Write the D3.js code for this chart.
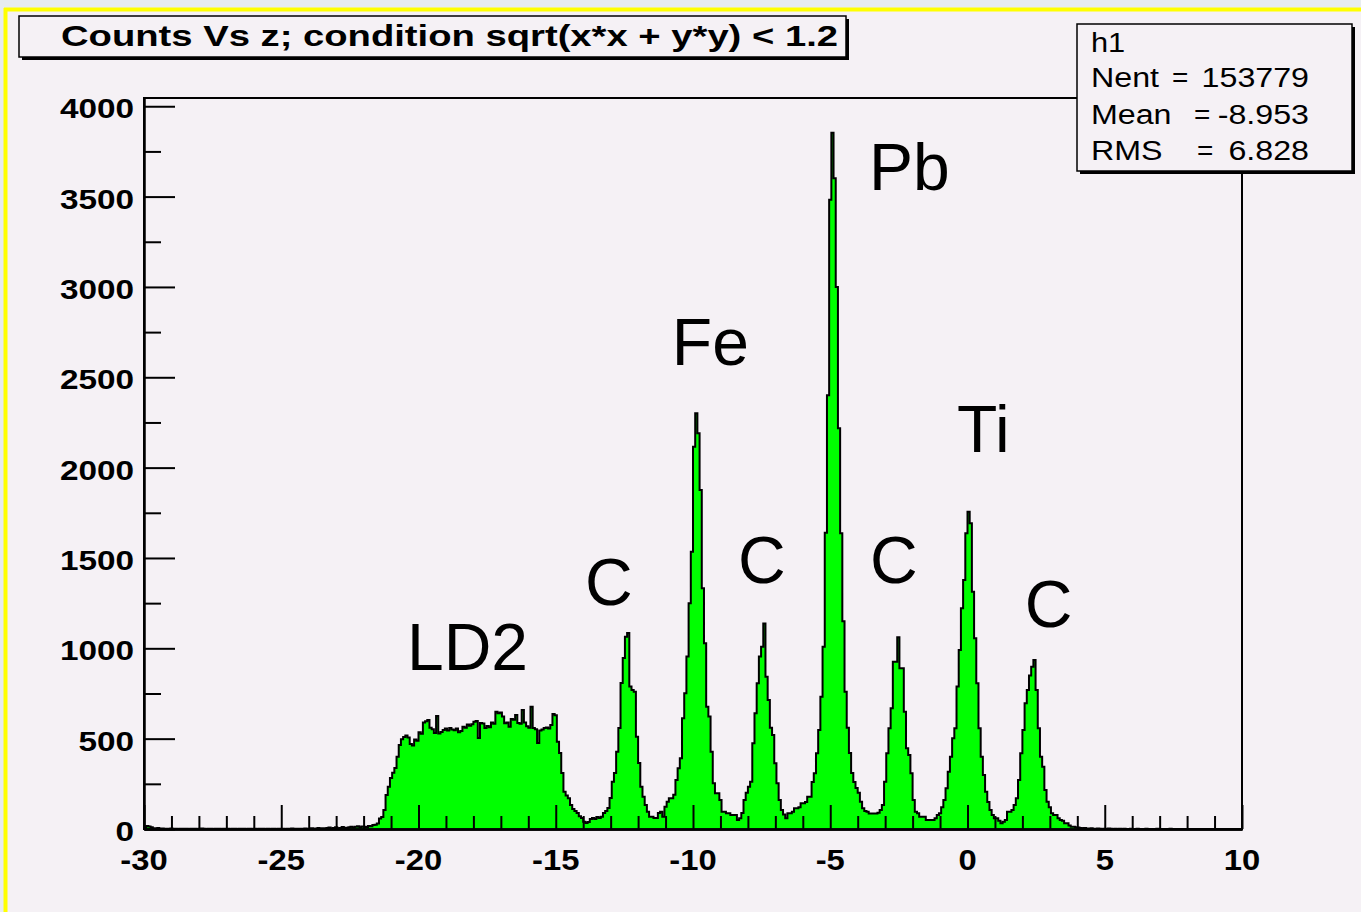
<!DOCTYPE html>
<html>
<head>
<meta charset="utf-8">
<script src="https://cdn.jsdelivr.net/npm/d3@7/dist/d3.min.js"></script>
<style>
  html, body { margin: 0; padding: 0; background: #e7ecf0; }
  svg { display: block; }
</style>
</head>
<body>
<svg id="canvas" width="1361" height="912"></svg>
<script>
// ---- histogram h1: counts vs z, 500 bins from -30 to 10 ----
const zLow = -30, zHigh = 10, nBins = 500;

// bin contents, split by region along z
const countsTailLeft = [
  8,17,14,9,4,3,5,2,3,1,
  2,1,3,1,2,0,1,2,1,1,
  0,2,1,1,0,1,3,1,0,1,
  1,0,2,1,1,0,1,1,2,0,
  1,1,0,1,2,1,0,1,1,0,
  1,0,1,2,1,0,1,0,1,1,
  0,1,1,2,0,1,1,3,1,2,
  1,2,1,3,2,1,4,2,3,5,
  2,4,3,6,8,3,5,9,4,6,
  11,7,5,10,13,8,12,15,9,14
];
const countsLD2 = [
  13,11,17,15,22,24,31,58,66,105,
  188,234,282,312,338,400,465,497,509,518,
  506,470,462,495,488,536,527,590,597,603,
  561,552,531,625,528,537,548,556,545,559,
  551,547,556,536,542,566,560,578,571,580,
  594,598,503,587,584,559,570,563,590,583,
  649,640,645,622,585,590,566,609,604,631,
  587,583,659,590,568,561,677,559,552,476,
  545,551,559,562,556,576,637,630,483,420,
  310,206,185,170,133,110,100,88,70,61
];
const countsC1Fe = [
  40,33,39,55,61,55,66,61,68,88,
  100,116,171,262,310,428,559,808,946,1064,
  1085,788,769,760,511,365,234,179,133,96,
  68,68,61,61,88,96,68,123,151,170,
  170,190,271,336,391,613,751,954,1249,1535,
  2116,2301,2190,1876,1332,1028,677,622,428,253,
  198,198,160,96,96,87,87,77,77,77,
  50
];
const countsC2Pb = [
  60,88,160,200,234,262,474,640,806,
  954,1009,1138,843,714,560,520,364,253,160,
  105,80,59,87,87,95,115,115,120,142,
  142,150,179,179,260,308,419,548,732,1009,
  1640,2400,3482,3853,3601,3000,2218,1637,1150,760,
  560,420,310,260,227,200,151,115,100,96
];
const countsC3Ti = [
  86,86,86,86,90,105,133,262,419,557,
  668,926,926,1061,889,889,649,447,410,308,
  160,96,87,68,68,68,50,50,50,50,
  60,77,87,120,160,225,317,400,502,557,
  788,991,1222,1378,1637,1756,1692,1313,1055,806,
  557,400,299,206,150,105,77,59,59,45,
  32
];
const countsC4Tail = [
  40,50,96,96,105,133,170,271,419,
  548,696,769,850,898,935,769,557,400,345,
  216,151,120,87,77,77,60,50,45,32,
  32,20,13,13,10,8,5,4,5,3,
  2,4,1,2,3,1,0,2,1,3,
  1,0,1,0,2,0,1,0,0,1,
  0,0,1,0,0,0,1,0,0,0,
  0,1,0,0,0,0,0,1,0,0,
  0,0,0,0,0,0,0,0,0,0,
  0,0,0,0,0,0,0,0,0,0,
  0,0,0,0,0,0,0,0,0,0
];

// axis tick values and labels
const xMajorTicks = [-30, -25, -20, -15, -10, -5, 0, 5, 10];
const yMajorTicks = [0, 500, 1000, 1500, 2000, 2500, 3000, 3500, 4000];

// target labels: name, z of the text's left edge, count level of its baseline
const targetNames  = ["LD2", "C", "Fe", "C", "Pb", "C", "Ti", "C"];
const targetZ      = [-20.42, -13.93, -10.77, -8.36, -3.59, -3.55, -0.38, 2.09];
const targetLevel  = [880, 1240, 2568, 1361, 3536, 1361, 2086, 1118];

// statistics box contents
const statsTitle  = "h1";
const statsNames  = ["Nent", "Mean", "RMS"];
const statsValues = ["153779", "-8.953", "6.828"];

const titleText = "Counts Vs z; condition sqrt(x*x + y*y) < 1.2";

// ---------------------------------------------------------------
const counts = [].concat(countsTailLeft, countsLD2, countsC1Fe,
                         countsC2Pb, countsC3Ti, countsC4Tail);
const binW = (zHigh - zLow) / nBins;
const bins = counts.map((c, i) => ({lo: zLow + i * binW, hi: zLow + (i + 1) * binW, c}));

const W = 1361, H = 912;
const svg = d3.select("#canvas");

// canvas background with its yellow edge
svg.append("rect").attr("x", 0).attr("y", 0).attr("width", W).attr("height", H)
   .attr("fill", "#e7ecf0");
svg.append("rect").attr("x", 6).attr("y", 10).attr("width", W - 6).attr("height", H - 10)
   .attr("fill", "#f5f1f5");
svg.append("line").attr("x1", 5.5).attr("x2", 5.5).attr("y1", 8).attr("y2", H)
   .attr("stroke", "#ffff00").attr("stroke-width", 4);
svg.append("line").attr("x1", 4).attr("x2", W).attr("y1", 9.5).attr("y2", 9.5)
   .attr("stroke", "#ffff00").attr("stroke-width", 4);

const frame = {left: 144, right: 1242, top: 98, bottom: 829};
const x = d3.scaleLinear().domain([zLow, zHigh]).range([frame.left, frame.right]);
const yMax = d3.max(counts) * 1.05;
const y = d3.scaleLinear().domain([0, yMax]).range([frame.bottom, frame.top]);

// frame
svg.append("rect")
   .attr("x", frame.left).attr("y", frame.top)
   .attr("width", frame.right - frame.left).attr("height", frame.bottom - frame.top)
   .attr("fill", "none").attr("stroke", "#000").attr("stroke-width", 2);

// histogram: filled step outline
const pts = [[x(zLow), y(0)]];
bins.forEach(b => { pts.push([x(b.lo), y(b.c)]); pts.push([x(b.hi), y(b.c)]); });
pts.push([x(zHigh), y(0)]);
const stepLine = d3.line();
svg.append("path").attr("d", stepLine(pts) + "Z")
   .attr("fill", "#00ff00").attr("stroke", "none");
svg.append("path").attr("d", stepLine(pts.slice(1, -1)))
   .attr("fill", "none").attr("stroke", "#000").attr("stroke-width", 2)
   .attr("stroke-linejoin", "miter");

// x axis ticks (inside the frame)
const xMinor = d3.range(zLow, zHigh + 0.001, 1).filter(v => !xMajorTicks.includes(v));
const gx = svg.append("g").attr("transform", `translate(0,${frame.bottom})`);
gx.append("g").call(d3.axisBottom(x).tickValues(xMinor).tickSize(-13).tickSizeOuter(0).tickFormat(""));
gx.append("g").call(d3.axisBottom(x).tickValues(xMajorTicks).tickSize(-24).tickSizeOuter(0).tickFormat(""));
gx.selectAll("path.domain").attr("stroke", "#000").attr("stroke-width", 2.5);
gx.selectAll(".tick line").attr("stroke", "#000").attr("stroke-width", 2);

// y axis ticks (inside the frame)
const yMinor = yMajorTicks.map(v => v + 250).filter(v => v < yMax);
const gy = svg.append("g").attr("transform", `translate(${frame.left},0)`);
gy.append("g").call(d3.axisLeft(y).tickValues(yMinor).tickSize(-17).tickSizeOuter(0).tickFormat(""));
gy.append("g").call(d3.axisLeft(y).tickValues(yMajorTicks).tickSize(-31).tickSizeOuter(0).tickFormat(""));
gy.selectAll("path.domain").attr("stroke", "#000").attr("stroke-width", 2);
gy.selectAll(".tick line").attr("stroke", "#000").attr("stroke-width", 2);

// tick labels
const labelFont = "'Liberation Sans', Arial, Helvetica, sans-serif";
svg.append("g").selectAll("text").data(xMajorTicks).join("text")
   .attr("transform", d => `translate(${x(d)},${frame.bottom + 41}) scale(1.13,1)`)
   .attr("text-anchor", "middle")
   .attr("font-family", labelFont).attr("font-weight", "bold").attr("font-size", 29)
   .attr("fill", "#000").text(d => d);
svg.append("g").selectAll("text").data(yMajorTicks).join("text")
   .attr("transform", d => `translate(${frame.left - 10},${y(d) + 12}) scale(1.19,1)`)
   .attr("text-anchor", "end")
   .attr("font-family", labelFont).attr("font-weight", "bold").attr("font-size", 28)
   .attr("fill", "#000").text(d => d);

// target labels on the peaks
svg.append("g").selectAll("text").data(targetNames).join("text")
   .attr("x", (d, i) => x(targetZ[i]))
   .attr("y", (d, i) => y(targetLevel[i]))
   .attr("font-family", labelFont).attr("font-size", 66)
   .attr("fill", "#000").text(d => d);

// title box with shadow
const tb = {x: 19, y: 16, w: 827, h: 41};
svg.append("rect").attr("x", tb.x + 3).attr("y", tb.y + 3).attr("width", tb.w).attr("height", tb.h)
   .attr("fill", "#000");
svg.append("rect").attr("x", tb.x).attr("y", tb.y).attr("width", tb.w).attr("height", tb.h)
   .attr("fill", "#f5f1f5").attr("stroke", "#000").attr("stroke-width", 1.5);
svg.append("text").attr("x", 61).attr("y", 46)
   .attr("font-family", labelFont).attr("font-weight", "bold").attr("font-size", 30)
   .attr("textLength", 777).attr("lengthAdjust", "spacingAndGlyphs")
   .attr("fill", "#000").text(titleText);

// statistics box with shadow
const sb = {x: 1077, y: 24, w: 275, h: 147};
svg.append("rect").attr("x", sb.x + 3).attr("y", sb.y + 3).attr("width", sb.w).attr("height", sb.h)
   .attr("fill", "#000");
svg.append("rect").attr("x", sb.x).attr("y", sb.y).attr("width", sb.w).attr("height", sb.h)
   .attr("fill", "#f5f1f5").attr("stroke", "#000").attr("stroke-width", 1.5);
const statFont = "'Liberation Sans', Arial, Helvetica, sans-serif";
svg.append("text").attr("transform", "translate(1091,52) scale(1.1,1)")
   .attr("font-family", statFont).attr("font-size", 28).attr("fill", "#000").text(statsTitle);
const eqX = [1172, 1194, 1197];
statsNames.forEach((n, i) => {
  const base = 87 + i * 36.5;
  svg.append("text").attr("transform", `translate(1091,${base}) scale(1.15,1)`)
     .attr("font-family", statFont).attr("font-size", 28).attr("fill", "#000").text(n);
  svg.append("text").attr("x", eqX[i]).attr("y", base)
     .attr("font-family", statFont).attr("font-size", 28).attr("fill", "#000").text("=");
  svg.append("text").attr("transform", `translate(1309,${base}) scale(1.15,1)`)
     .attr("text-anchor", "end")
     .attr("font-family", statFont).attr("font-size", 28).attr("fill", "#000").text(statsValues[i]);
});
</script>
</body>
</html>
